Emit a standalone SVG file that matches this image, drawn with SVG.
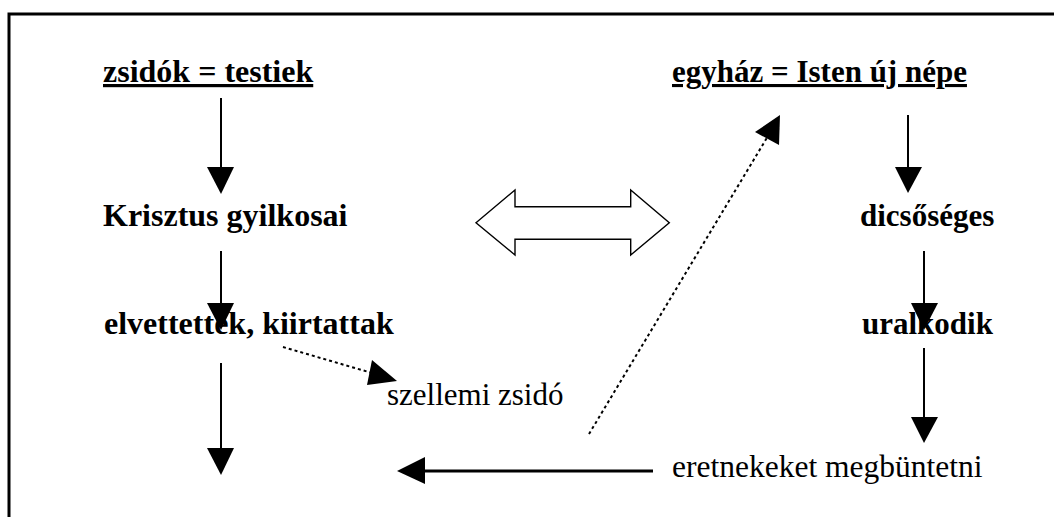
<svg xmlns="http://www.w3.org/2000/svg" width="1054" height="517" viewBox="0 0 1054 517">
<style>
text{font-family:'Liberation Serif','Times New Roman',serif;fill:#000}
.b{font-weight:bold}
.u{text-decoration:underline}
.ln{stroke:#000;stroke-width:2;fill:none}
.dot{stroke:#000;stroke-width:2;fill:none;stroke-dasharray:3 3}
.hd{fill:#000;stroke:none}
</style>
<rect width="1054" height="517" fill="#fff"/>
<path d="M9,540 V14 H1070" fill="none" stroke="#000" stroke-width="3"/>
<g id="n-zsidok"><text class="b u" x="103" y="82" font-size="32">zsidók = testiek</text></g>
<g id="n-krisztus"><text class="b" x="103" y="226" font-size="32">Krisztus gyilkosai</text></g>
<g id="n-elvettettek"><text class="b" x="104" y="334" font-size="32">elvettettek, kiirtattak</text></g>
<g id="n-szellemi"><text x="387" y="405" font-size="31">szellemi zsidó</text></g>
<g id="n-egyhaz"><text class="b u" x="672" y="82" font-size="31">egyház = Isten új népe</text></g>
<g id="n-dicsoseges"><text class="b" x="860" y="226" font-size="31">dicsőséges</text></g>
<g id="n-uralkodik"><text class="b" x="862" y="334" font-size="31">uralkodik</text></g>
<g id="n-eretnekeket"><text x="672" y="477" font-size="31.5">eretnekeket megbüntetni</text></g>
<g id="n-double-arrow"><polygon points="476,222.7 515,190 515,206.7 630.7,206.7 630.7,190 669.3,222.7 630.7,255 630.7,239.3 515,239.3 515,255" fill="#fff" stroke="#000" stroke-width="1.4"/></g>
<g id="connectors">
<line class="ln" x1="221" y1="98" x2="221" y2="170"/>
<polygon class="hd" points="207,167 234,167 221,194"/>
<line class="ln" x1="221" y1="251" x2="221" y2="306"/>
<polygon class="hd" points="207,303 234,303 221,330"/>
<line class="ln" x1="221" y1="363" x2="221" y2="450"/>
<polygon class="hd" points="207,448 234,448 221,475"/>
<line class="dot" x1="283" y1="347" x2="372" y2="373"/>
<polygon class="hd" points="372,360 367,385 397,381"/>
<line x1="653" y1="471" x2="422" y2="471" stroke="#000" stroke-width="3"/>
<polygon class="hd" points="397,471 425,457 425,484"/>
<line class="dot" x1="589" y1="434" x2="768" y2="136"/>
<polygon class="hd" points="780,115 755,132 779,145"/>
<line class="ln" x1="908" y1="115" x2="908" y2="170"/>
<polygon class="hd" points="895,167 922,167 908,193"/>
<line class="ln" x1="924" y1="251" x2="924" y2="306"/>
<polygon class="hd" points="911,303 938,303 924,330"/>
<line class="ln" x1="924" y1="348" x2="924" y2="420"/>
<polygon class="hd" points="911,417 938,417 924,443"/>
</g>
</svg>
